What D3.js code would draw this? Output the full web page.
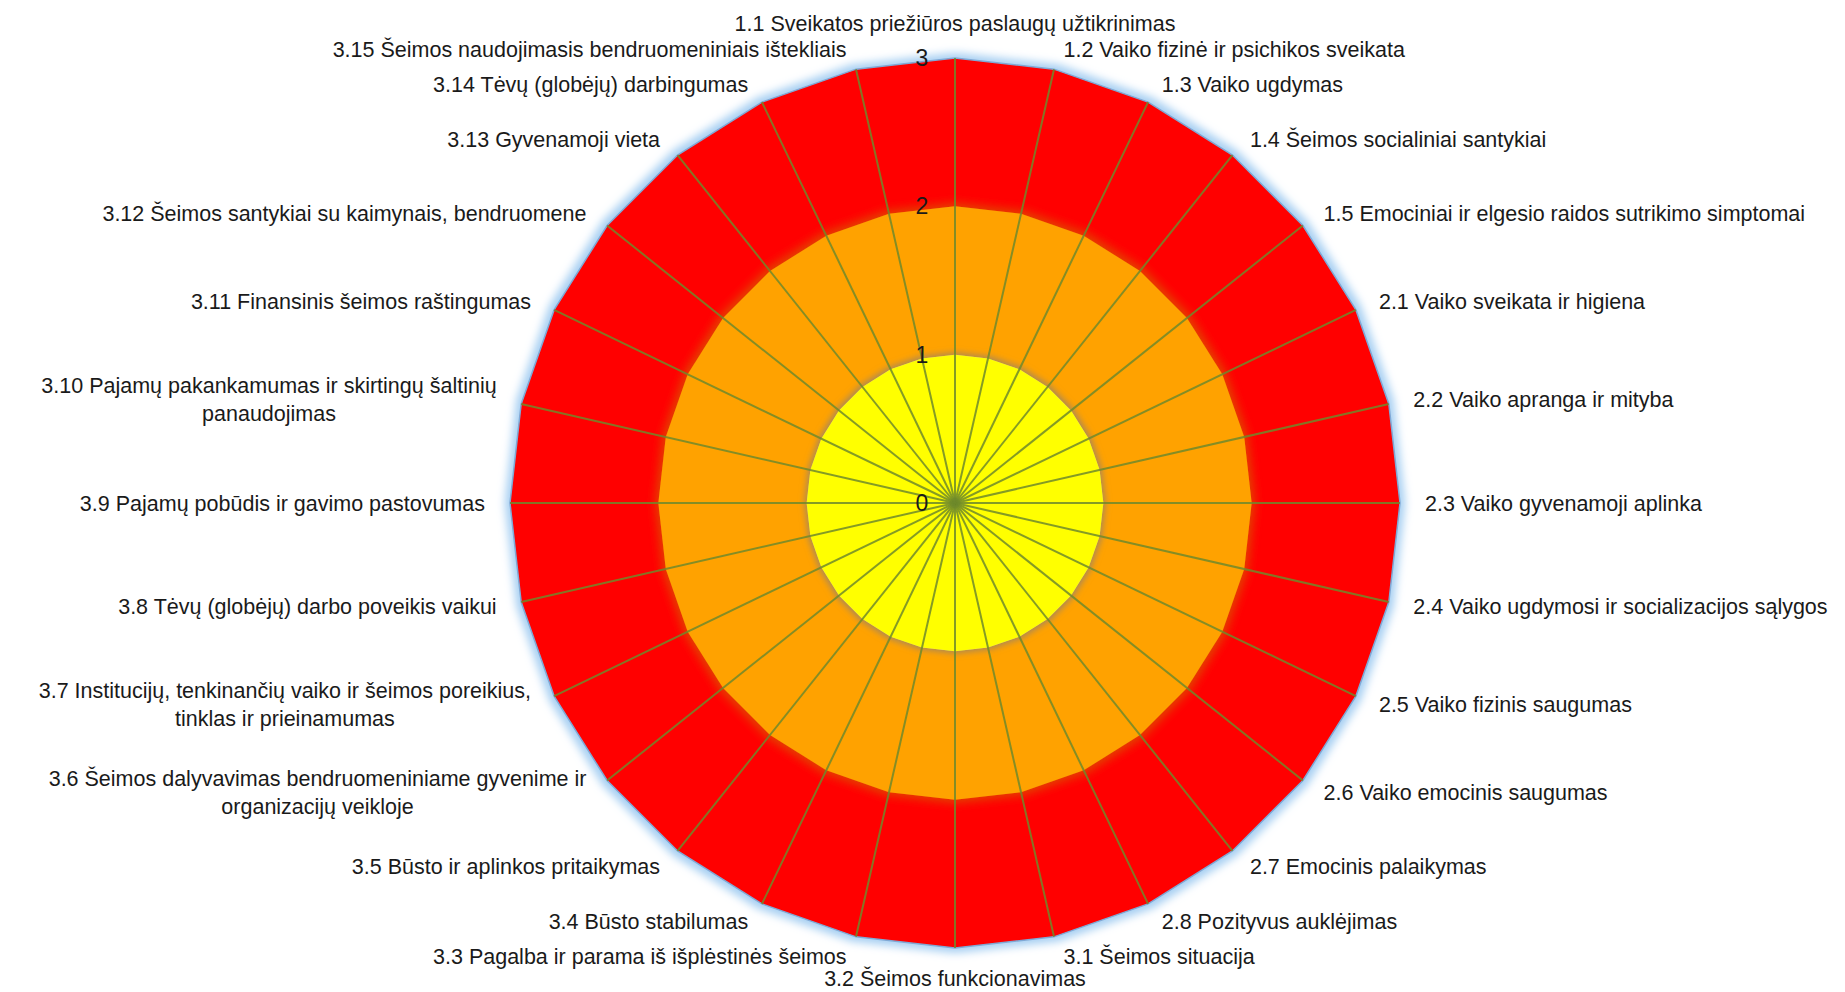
<!DOCTYPE html>
<html>
<head>
<meta charset="utf-8">
<script src="https://cdn.jsdelivr.net/npm/d3@7"></script>
<style>
  body { margin: 0; background: #ffffff; }
  text { font-family: "Liberation Sans", Arial, sans-serif; fill: #1a1a1a; }
</style>
</head>
<body>
<div id="chart"></div>
<script>
var categories = [
	"1.1 Sveikatos priežiūros paslaugų užtikrinimas",
	"1.2 Vaiko fizinė ir psichikos sveikata",
	"1.3 Vaiko ugdymas",
	"1.4 Šeimos socialiniai santykiai",
	"1.5 Emociniai ir elgesio raidos sutrikimo simptomai",
	"2.1 Vaiko sveikata ir higiena",
	"2.2 Vaiko apranga ir mityba",
	"2.3 Vaiko gyvenamoji aplinka",
	"2.4 Vaiko ugdymosi ir socializacijos sąlygos",
	"2.5 Vaiko fizinis saugumas",
	"2.6 Vaiko emocinis saugumas",
	"2.7 Emocinis palaikymas",
	"2.8 Pozityvus auklėjimas",
	"3.1 Šeimos situacija",
	"3.2 Šeimos funkcionavimas",
	"3.3 Pagalba ir parama iš išplėstinės šeimos",
	"3.4 Būsto stabilumas",
	"3.5 Būsto ir aplinkos pritaikymas",
	"3.6 Šeimos dalyvavimas bendruomeniniame gyvenime ir\norganizacijų veikloje",
	"3.7 Institucijų, tenkinančių vaiko ir šeimos poreikius,\ntinklas ir prieinamumas",
	"3.8 Tėvų (globėjų) darbo poveikis vaikui",
	"3.9 Pajamų pobūdis ir gavimo pastovumas",
	"3.10 Pajamų pakankamumas ir skirtingų šaltinių\npanaudojimas",
	"3.11 Finansinis šeimos raštingumas",
	"3.12 Šeimos santykiai su kaimynais, bendruomene",
	"3.13 Gyvenamoji vieta",
	"3.14 Tėvų (globėjų) darbingumas",
	"3.15 Šeimos naudojimasis bendruomeniniais ištekliais"
];

// three filled series: red zone, orange zone, yellow zone
var redValues = [3, 3, 3, 3, 3, 3, 3, 3, 3, 3, 3, 3, 3, 3, 3, 3, 3, 3, 3, 3, 3, 3, 3, 3, 3, 3, 3, 3];
var orangeValues = [2, 2, 2, 2, 2, 2, 2, 2, 2, 2, 2, 2, 2, 2, 2, 2, 2, 2, 2, 2, 2, 2, 2, 2, 2, 2, 2, 2];
var yellowValues = [1, 1, 1, 1, 1, 1, 1, 1, 1, 1, 1, 1, 1, 1, 1, 1, 1, 1, 1, 1, 1, 1, 1, 1, 1, 1, 1, 1];

var ticks = [0, 1, 2, 3];

var width = 1845;
var height = 992;
var cx = 955;
var cy = 503;

var svg = d3.select("#chart").append("svg")
	.attr("width", width)
	.attr("height", height);

var defs = svg.append("defs");

function addGlow(id, color, opacity, dilate, blur) {
	var f = defs.append("filter")
		.attr("id", id)
		.attr("x", "-20%").attr("y", "-20%")
		.attr("width", "140%").attr("height", "140%");
	f.append("feMorphology").attr("in", "SourceAlpha").attr("operator", "dilate").attr("radius", dilate).attr("result", "dil");
	f.append("feGaussianBlur").attr("in", "dil").attr("stdDeviation", blur).attr("result", "blur");
	f.append("feFlood").attr("flood-color", color).attr("flood-opacity", opacity).attr("result", "col");
	f.append("feComposite").attr("in", "col").attr("in2", "blur").attr("operator", "in").attr("result", "glow");
	var m = f.append("feMerge");
	m.append("feMergeNode").attr("in", "glow");
	m.append("feMergeNode").attr("in", "SourceGraphic");
}

addGlow("glowBlue", "#a6cff2", 1, 4, 4);
addGlow("glowOrange", "#e04a00", 0.9, 3, 5);
addGlow("glowYellow", "#9c8464", 0.85, 2, 3);

var n = categories.length;
var r = d3.scaleLinear().domain([0, 3]).range([0, 445]);
var angle = d3.scaleLinear().domain([0, n]).range([0, 2 * Math.PI]);

function px(i, v) { return cx + r(v) * Math.sin(angle(i)); }
function py(i, v) { return cy - r(v) * Math.cos(angle(i)); }

var radial = d3.lineRadial()
	.angle(function (d, i) { return angle(i); })
	.radius(function (d) { return r(d); })
	.curve(d3.curveLinearClosed);

var g = svg.append("g").attr("transform", "translate(" + cx + "," + cy + ")");

g.append("path")
	.attr("d", radial(redValues))
	.attr("fill", "#ff0000")
	.attr("stroke", "#7fa9d6")
	.attr("stroke-width", 1.5)
	.attr("filter", "url(#glowBlue)");

g.append("path")
	.attr("d", radial(orangeValues))
	.attr("fill", "#ffa200")
	.attr("filter", "url(#glowOrange)");

g.append("path")
	.attr("d", radial(yellowValues))
	.attr("fill", "#ffff00")
	.attr("filter", "url(#glowYellow)");

// spokes
svg.append("g")
	.selectAll("line")
	.data(categories)
	.enter().append("line")
	.attr("x1", cx)
	.attr("y1", cy)
	.attr("x2", function (d, i) { return px(i, 3); })
	.attr("y2", function (d, i) { return py(i, 3); })
	.attr("stroke", "#6f8a2c")
	.attr("stroke-opacity", 0.85)
	.attr("stroke-width", 2);

// value ticks along the top axis
svg.append("g")
	.selectAll("text")
	.data(ticks)
	.enter().append("text")
	.attr("x", cx - 33)
	.attr("y", function (d) { return cy - r(d); })
	.attr("dy", "0.35em")
	.attr("text-anchor", "middle")
	.style("font-size", "23px")
	.text(function (d) { return d; });

// category labels
var lineH = 28;
svg.append("g")
	.selectAll("text")
	.data(categories)
	.enter().append("text")
	.style("font-size", "21.5px")
	.each(function (d, i) {
		var s = Math.sin(angle(i));
		var c = Math.cos(angle(i));
		var vx = px(i, 3);
		var vy = py(i, 3);
		var lines = d.split("\n");
		var t = d3.select(this);
		var ax, ay;
		if (Math.abs(s) < 0.01) {
			ax = vx;
			ay = vy - (c > 0 ? 35 : 30) * c;
		} else {
			ax = vx + 20 * s + (s > 0 ? 5 : -5);
			ay = vy - 20 * c;
		}
		var spans = lines.map(function (l) {
			return t.append("tspan").text(l);
		});
		var w = d3.max(spans, function (sp) { return sp.node().getComputedTextLength(); });
		var mid;
		if (Math.abs(s) < 0.01) {
			mid = ax;
		} else if (s > 0) {
			mid = ax + w / 2;
		} else {
			mid = ax - w / 2;
		}
		var top = ay - (lines.length - 1) * lineH / 2;
		spans.forEach(function (sp, k) {
			sp.attr("x", mid)
				.attr("y", top + k * lineH)
				.attr("dy", "0.35em")
				.attr("text-anchor", "middle");
		});
	});
</script>
</body>
</html>
